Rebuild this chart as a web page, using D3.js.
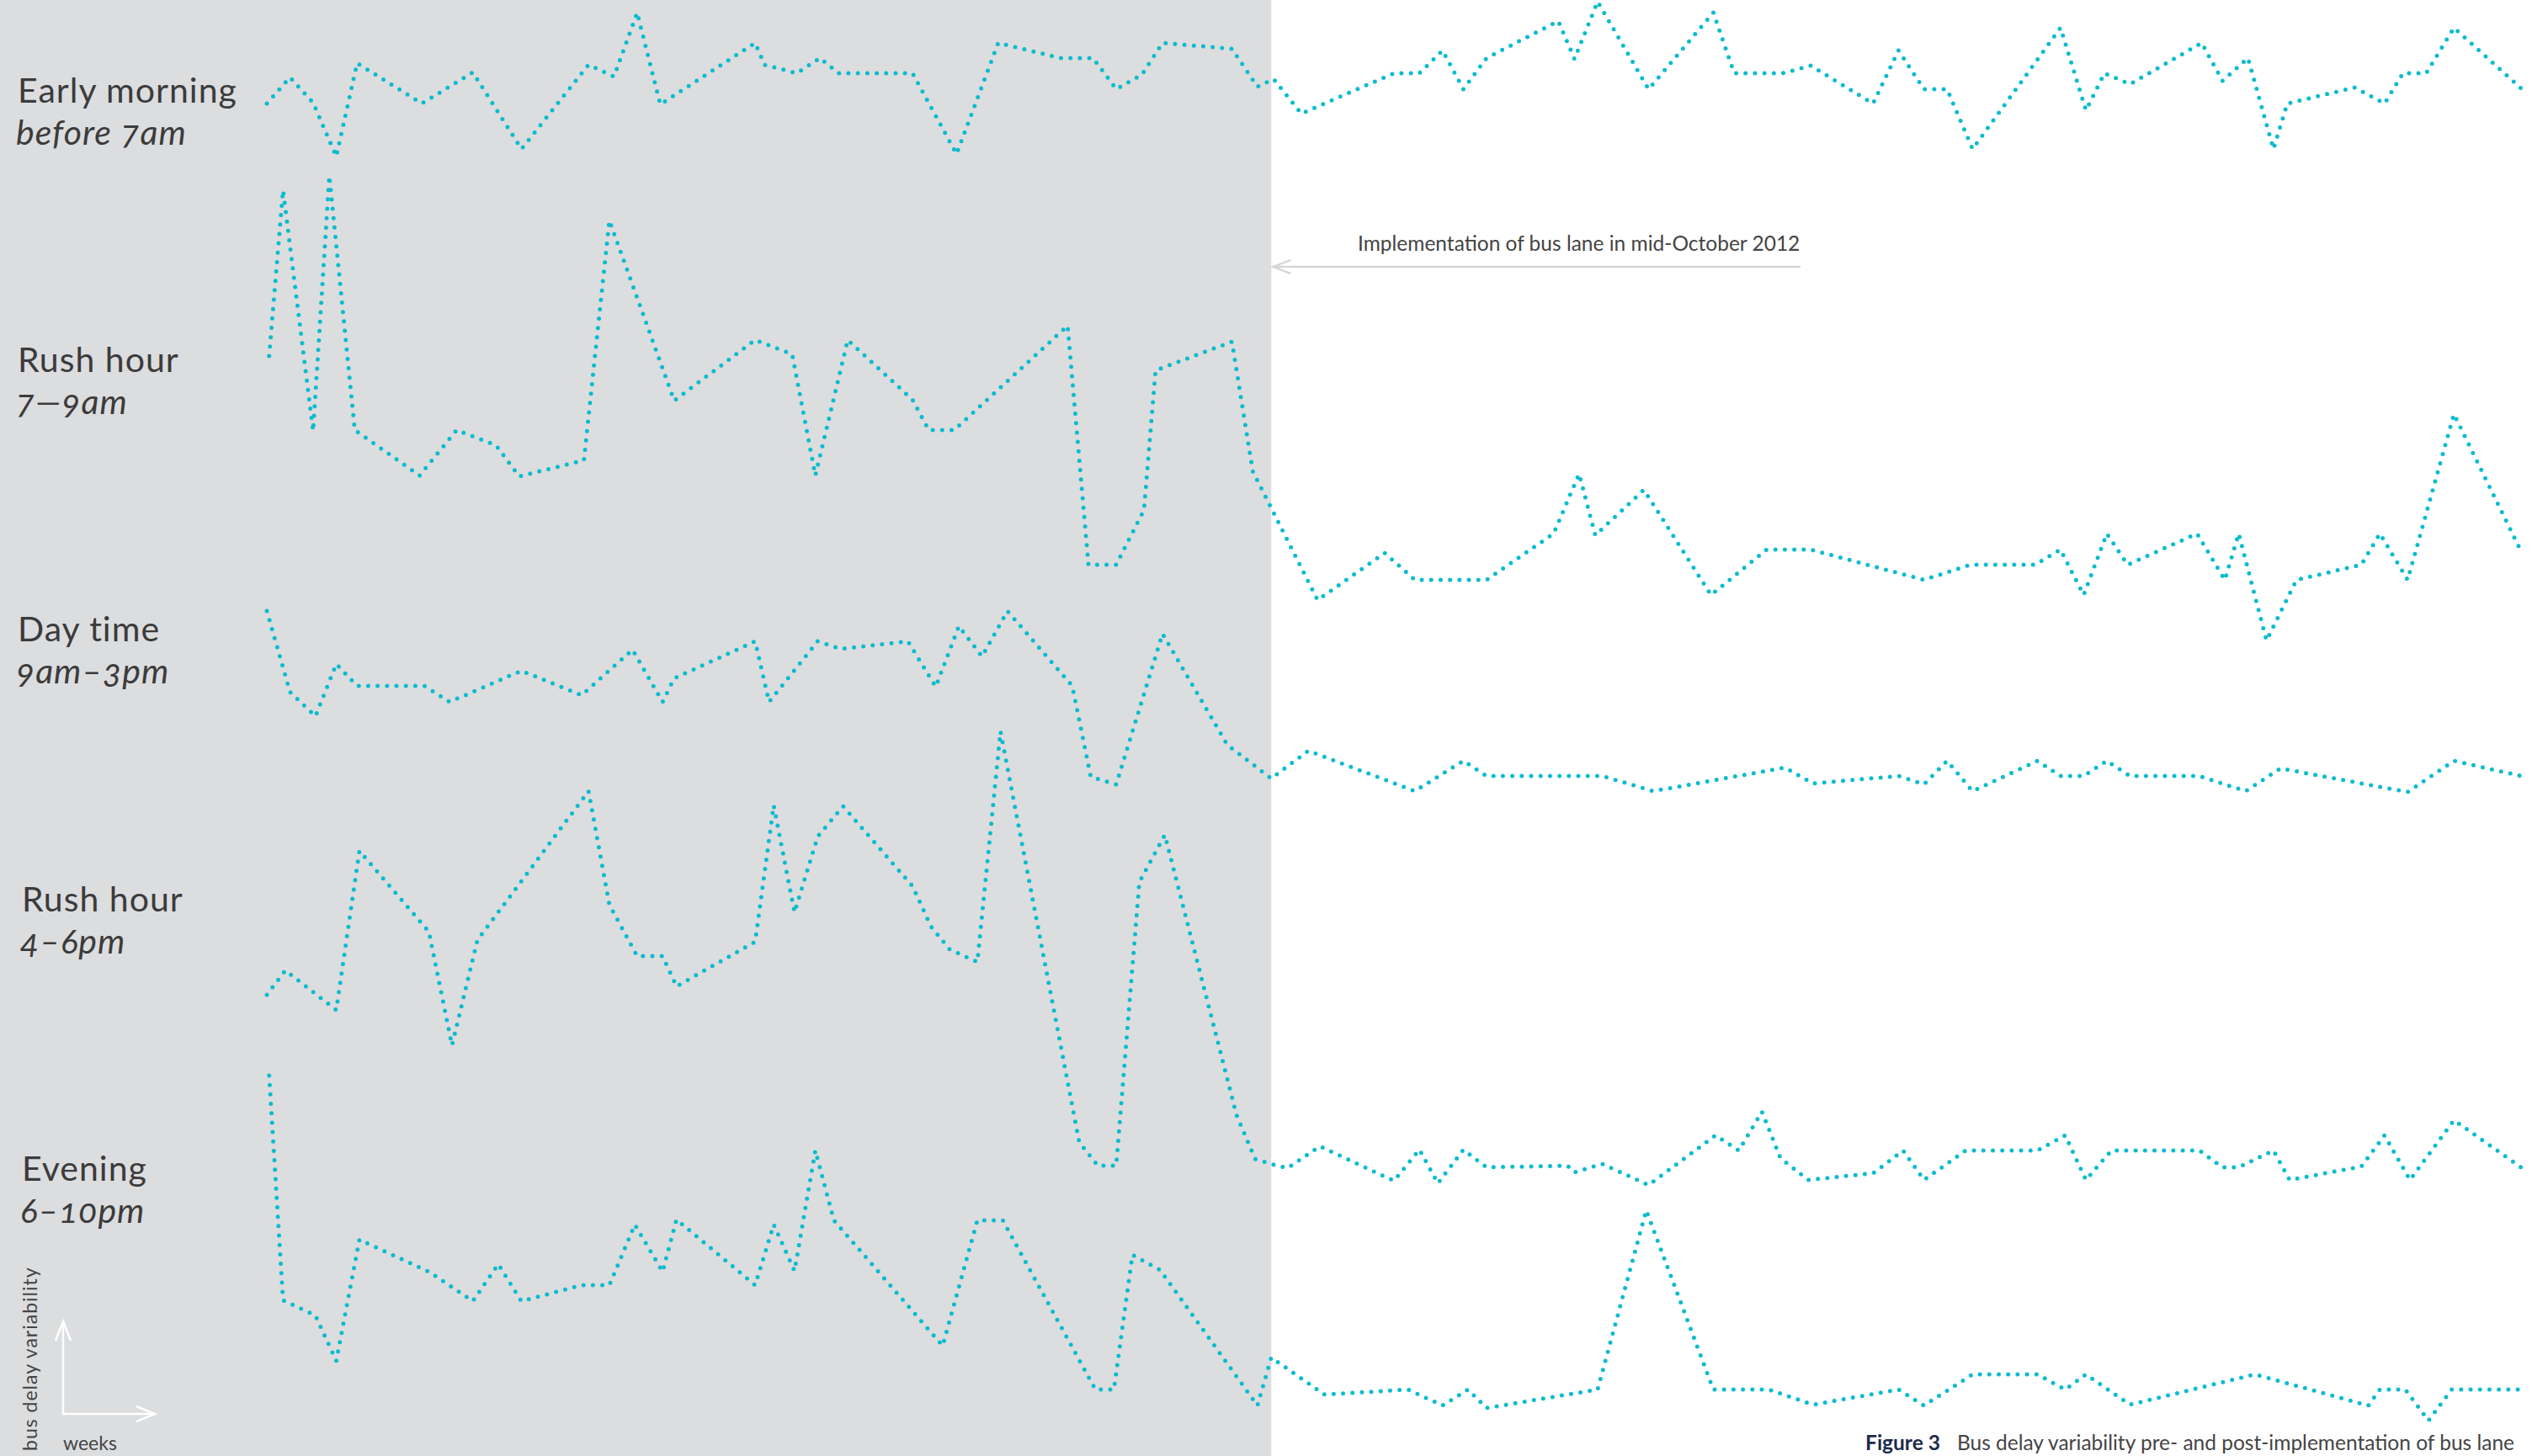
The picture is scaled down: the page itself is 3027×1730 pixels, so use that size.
<!DOCTYPE html>
<html lang="en">
<head>
<meta charset="UTF-8">
<title>Bus delay variability pre- and post-implementation of bus lane</title>
<script src="https://d3js.org/d3.v7.min.js"></script>
<style>
  body { margin: 0; background: #fff; font-family: Lato, "Open Sans", sans-serif; }
  svg { display: block; }
  .period { font-size: 41px; fill: #3b3b3b; letter-spacing: 1px; }
  .hours { font-size: 41px; fill: #3b3b3b; letter-spacing: 1px; font-style: italic; font-feature-settings: "onum"; }
  .series { fill: none; stroke: #0bbccd; stroke-width: 5; stroke-linecap: round; stroke-dasharray: 0 11.2; }
  .note { font-size: 24.5px; fill: #444; }
  .legend { font-size: 23px; fill: #444; }
  .caption { font-size: 24.5px; fill: #444; }
  .caption .fig { font-weight: bold; fill: #1c2b4b; }
</style>
</head>
<body>
<svg id="chart" width="3027" height="1730"></svg>
<script>
// weeks since start of record, bus delay variability (arbitrary units)
const periods = ["Early morning", "Rush hour", "Day time", "Rush hour", "Evening"];
const periodHours = ["before 7am", "7\u20149am", "9am\u20133pm", "4\u20136pm", "6\u201310pm"];

const earlyMorning = [[0.0,7.7],[1.0,10.8],[2.0,7.8],[3.0,1.4],[3.9,12.5],[6.7,7.7],[8.9,11.4],[11.0,2.3],[13.9,12.3],[15.0,10.9],[16.0,18.5],[17.0,7.6],[21.1,14.9],[21.5,12.3],[22.9,11.3],[23.9,13.1],[24.7,11.3],[27.9,11.3],[29.8,1.7],[31.6,14.9],[34.3,13.1],[35.7,13.1],[36.7,9.4],[37.8,11.1],[38.7,14.9],[41.7,14.2],[42.8,9.7],[43.5,10.6],[44.7,6.5],[48.7,11.3],[49.8,11.3],[50.8,14.0],[51.7,9.4],[52.7,13.1],[55.8,17.5],[56.5,13.0],[57.5,19.8],[59.7,9.4],[62.5,18.5],[63.4,11.3],[65.5,11.3],[66.7,12.2],[69.4,7.7],[70.5,14.0],[71.6,9.4],[72.6,9.4],[73.7,2.3],[77.5,16.7],[78.6,6.9],[79.4,11.3],[80.5,10.0],[83.6,14.9],[84.5,10.4],[85.6,13.1],[86.7,2.3],[87.3,7.7],[90.2,9.6],[91.5,7.7],[92.3,11.3],[93.3,11.3],[94.5,16.7],[97.4,9.5]];

const rushMorning = [[0.1,35.7],[0.7,55.4],[2.0,26.8],[2.7,57.1],[3.8,26.9],[6.6,21.5],[8.2,26.9],[9.9,25.1],[10.9,21.4],[13.7,23.3],[14.8,51.8],[17.6,30.4],[21.1,37.6],[22.7,35.9],[23.7,21.5],[25.1,37.6],[27.9,30.5],[28.6,26.9],[29.7,26.9],[34.6,39.3],[35.5,10.9],[36.7,10.9],[37.9,17.4],[38.4,34.0],[41.7,37.4],[42.6,22.0],[45.4,6.7],[48.3,12.3],[49.6,9.1],[52.7,9.1],[55.6,14.6],[56.7,21.7],[57.4,14.4],[59.5,19.8],[62.4,7.3],[64.8,12.7],[66.7,12.7],[71.6,9.1],[73.6,10.9],[76.4,10.9],[77.5,12.7],[78.5,7.3],[79.5,14.6],[80.4,10.9],[83.4,14.6],[84.6,9.1],[85.2,14.6],[86.4,1.9],[87.7,9.1],[90.5,10.9],[91.3,14.6],[92.5,9.1],[94.5,28.8],[97.4,12.5]];

const dayTime = [[0.0,23.4],[1.0,13.8],[2.1,10.9],[3.0,17.1],[3.9,14.5],[6.8,14.5],[7.9,12.6],[11.0,16.3],[13.6,13.4],[15.8,18.8],[17.1,12.6],[17.6,15.4],[21.1,19.8],[21.7,12.6],[23.8,19.8],[24.8,18.9],[27.7,19.8],[28.9,14.4],[29.9,21.6],[30.9,18.0],[32.0,23.4],[34.8,14.5],[35.6,3.7],[36.7,2.8],[38.7,20.7],[41.5,7.5],[43.4,3.5],[45.0,6.8],[49.6,2.0],[51.7,5.6],[52.7,3.8],[57.7,3.8],[59.9,2.0],[65.6,4.8],[66.8,2.9],[70.5,3.8],[71.6,2.8],[72.6,5.6],[73.7,2.0],[76.5,5.6],[77.5,3.8],[78.5,3.8],[79.5,5.6],[80.5,3.8],[83.5,3.8],[85.5,2.0],[87.0,4.7],[92.5,1.9],[94.5,5.6],[97.4,3.8]];

const rushEvening = [[0.0,23.8],[0.8,26.7],[3.0,22.0],[4.0,40.9],[7.0,31.3],[8.0,17.8],[9.1,30.3],[13.9,48.0],[14.8,34.5],[16.0,28.4],[17.1,28.4],[17.7,24.8],[21.1,30.1],[21.9,46.3],[22.8,33.6],[23.8,42.6],[24.9,46.2],[27.9,36.7],[28.7,31.9],[29.5,29.2],[30.7,27.7],[31.7,55.1],[35.1,6.3],[35.9,3.5],[36.7,3.5],[37.7,37.2],[38.8,42.8],[41.9,9.5],[42.7,4.3],[43.4,3.7],[44.1,3.2],[45.5,5.8],[48.7,1.7],[49.8,5.4],[50.6,1.4],[51.7,5.4],[52.7,3.3],[56.2,3.5],[56.5,2.7],[57.7,3.7],[59.7,1.2],[62.6,7.1],[63.6,5.3],[64.6,9.9],[65.4,4.4],[66.6,1.8],[69.4,2.6],[70.7,5.3],[71.6,1.8],[73.4,5.3],[76.5,5.3],[77.7,7.1],[78.6,1.8],[79.7,5.3],[83.5,5.3],[84.5,3.3],[85.2,3.3],[86.7,5.3],[87.4,1.8],[90.5,3.4],[91.5,7.1],[92.6,1.8],[94.5,8.9],[97.4,3.3]];

const evening = [[0.1,42.2],[0.7,15.5],[2.1,13.7],[3.0,8.3],[4.0,22.7],[7.0,18.9],[8.9,15.4],[10.0,19.8],[11.0,15.4],[13.6,17.3],[14.8,17.3],[15.9,24.5],[17.1,18.9],[17.7,25.1],[21.1,17.3],[21.9,24.5],[22.8,19.0],[23.7,33.3],[24.5,25.0],[29.2,10.1],[30.7,25.0],[31.8,25.0],[35.8,4.9],[36.6,4.9],[37.4,20.9],[38.6,19.1],[42.8,3.0],[43.4,8.7],[45.7,4.3],[49.3,4.9],[50.8,3.0],[51.9,4.9],[52.7,2.7],[57.5,4.9],[59.6,26.2],[62.5,4.9],[64.9,4.9],[66.8,3.1],[70.5,4.9],[71.6,3.0],[73.7,6.7],[76.5,6.7],[77.7,4.9],[78.6,6.7],[80.5,3.1],[85.9,6.7],[90.8,3.0],[91.3,4.9],[92.4,4.9],[93.4,1.2],[94.4,4.9],[97.4,4.9]];

const busLaneWeek = 43.4;
const lastWeek = 97.4;
const noteText = "Implementation of bus lane in mid-October 2012";
const captionLabel = "Figure 3";
const captionText = "Bus delay variability pre- and post-implementation of bus lane";

const allSeries = [earlyMorning, rushMorning, dayTime, rushEvening, evening];

// layout
const W = 3027, H = 1730;
const bandBase = [200, 780, 960, 1420, 1700];   // y of zero variability for each band
const labelY = [122, 442, 762, 1083, 1403];
const labelX = [21, 21, 21, 26, 26];

const svg = d3.select("#chart");

const x = d3.scaleLinear().domain([0, lastWeek]).range([317, 2995]);
const v = d3.scaleLinear().domain([0, 60]).range([0, -600]);

// pre-implementation shading
svg.append("rect")
    .attr("x", 0).attr("y", 0)
    .attr("width", x(busLaneWeek)).attr("height", H)
    .attr("fill", "#dcdddf");

// series lines
const line = d3.line()
    .x(d => x(d[0]))
    .y(d => v(d[1]));

allSeries.forEach((s, i) => {
    svg.append("path")
        .attr("class", "series")
        .attr("transform", `translate(0,${bandBase[i]})`)
        .attr("d", line(s));
});

// period labels: name + hours
periods.forEach((p, i) => {
    svg.append("text").attr("class", "period")
        .attr("x", labelX[i]).attr("y", labelY[i]).text(p);
    svg.append("text").attr("class", "hours")
        .attr("x", labelX[i] - 2).attr("y", labelY[i] + 50).text(periodHours[i]);
});

// annotation arrow
const arrowY = 317;
const ax0 = x(busLaneWeek) + 2;
svg.append("line")
    .attr("x1", ax0).attr("x2", 2139)
    .attr("y1", arrowY).attr("y2", arrowY)
    .attr("stroke", "#d6d6d6").attr("stroke-width", 2.5);
svg.append("path")
    .attr("d", `M${ax0 + 21},${arrowY - 8}L${ax0},${arrowY}L${ax0 + 21},${arrowY + 8}`)
    .attr("fill", "none").attr("stroke", "#d6d6d6").attr("stroke-width", 2.5);
svg.append("text").attr("class", "note")
    .attr("x", 1613).attr("y", 298).text(noteText);

// axis legend (bottom left)
const lg = svg.append("g").attr("fill", "none").attr("stroke", "#fff").attr("stroke-width", 2.5);
lg.append("path").attr("d", "M75,1570V1680H184");
lg.append("path").attr("d", "M66,1593L75,1570L84,1593");
lg.append("path").attr("d", "M162,1671L184,1680L162,1689");
svg.append("text").attr("class", "legend")
    .attr("transform", "translate(44,1724) rotate(-90)")
    .style("letter-spacing", "1px")
    .text("bus delay variability");
svg.append("text").attr("class", "legend")
    .attr("x", 75).attr("y", 1723).text("weeks");

// caption
const cap = svg.append("text").attr("class", "caption")
    .attr("x", 2987).attr("y", 1723).attr("text-anchor", "end");
cap.append("tspan").attr("class", "fig").text(captionLabel);
cap.append("tspan").attr("dx", 20).text(captionText);
</script>
</body>
</html>
